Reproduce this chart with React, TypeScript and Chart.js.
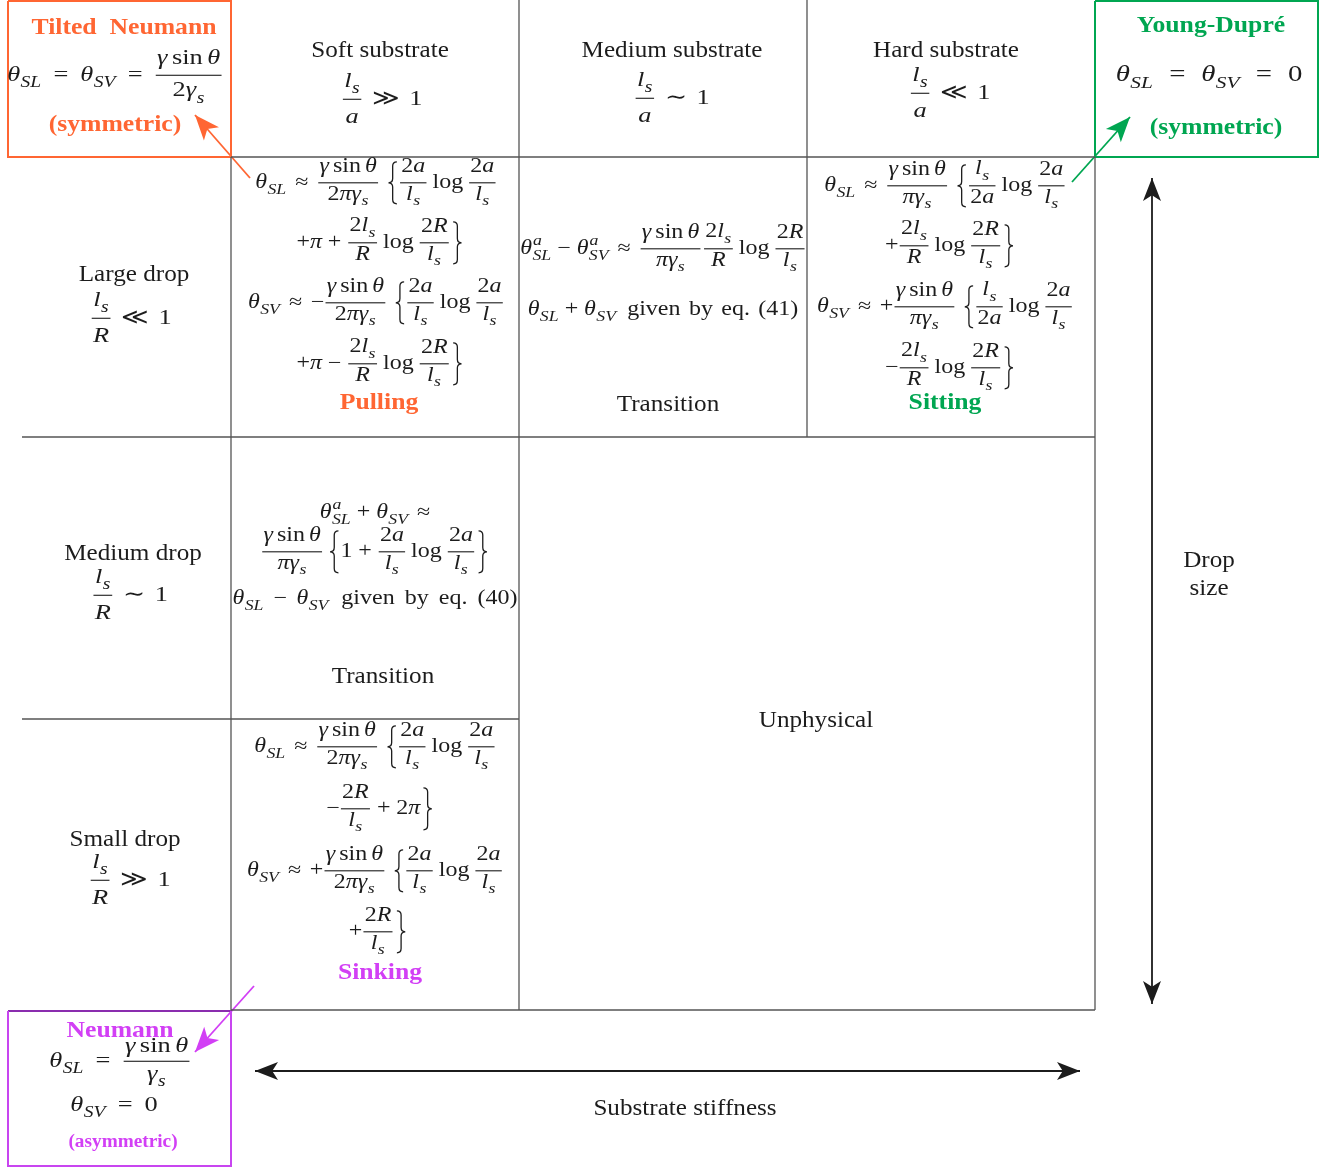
import React, { useEffect, useRef } from "react";
import { Chart, registerables } from "chart.js";

Chart.register(...registerables);

// ---------------- data (text content of the diagram) ----------------
const columnHeaders = ["Soft substrate", "Medium substrate", "Hard substrate"];
const columnRelations = ["≫", "∼", "≪"];
const rowHeaders = ["Large drop", "Medium drop", "Small drop"];
const rowRelations = ["≪", "∼", "≫"];
const regimeNames = ["Pulling", "Sitting", "Sinking"];
const transitionLabel = "Transition";
const unphysicalLabel = "Unphysical";
const limitNames = ["Tilted  Neumann", "Young-Dupré", "Neumann"];
const limitSymmetry = ["(symmetric)", "(symmetric)", "(asymmetric)"];
const axisTitles = ["Substrate stiffness", "Drop", "size"];
const equationRefs = ["(41)", "(40)"];

// ---------------- layout (diagram units on the linear scales) ----------------
const W = 1336;
const H = 1168;
const colEdges = [231, 519, 807, 1095];
const rowEdges = [157, 437, 719, 1010];
const labelLeft = 22;

const ORANGE = "#FF6633";
const GREEN = "#00A651";
const MAGENTA = "#D23FF5";
const MAGENTA_BOX = "#C845F0";
const PURPLE_DARK = "#8A2DAE";
const GRID = "#555555";
const INK = "#1c1c1c";

const SX = 1.07;
const MSX = 1.2;
const SERIF = '"Liberation Serif", "DejaVu Serif", serif';
const LABEL = 23.5;
const MATH = 20;

// ---------------- tiny math layout engine ----------------
type Ctx = CanvasRenderingContext2D;
type FS = { num: number; den: number };
type Box = { w: number; a: number; d: number; draw: (c: Ctx, x: number, y: number) => void };
type MN = (c: Ctx, s: number, st: FS) => Box;

const txt = (str: string, kind: string, sx: number): MN => (c, s) => {
  const font = (kind === "i" ? "italic " : kind === "b" ? "bold " : "") + s + "px " + SERIF;
  c.font = font;
  const w = c.measureText(str).width * sx;
  return {
    w,
    a: 0.7 * s,
    d: 0.2 * s,
    draw: (cc, x, y) => {
      cc.save();
      cc.font = font;
      cc.textAlign = "left";
      cc.textBaseline = "alphabetic";
      cc.translate(x, y);
      cc.scale(sx, 1);
      cc.fillText(str, 0, 0);
      cc.restore();
    },
  };
};
const I = (s: string) => txt(s, "i", MSX);
const R = (s: string) => txt(s, "r", MSX);
const sp = (em: number): MN => (_c, s) => ({ w: em * s * MSX, a: 0, d: 0, draw: () => {} });
const row = (...items: MN[]): MN => (c, s, st) => {
  const bs = items.map((f) => f(c, s, st));
  let w = 0, a = 0, d = 0;
  bs.forEach((b) => { w += b.w; a = Math.max(a, b.a); d = Math.max(d, b.d); });
  return {
    w, a, d,
    draw: (cc, x, y) => { let xx = x; bs.forEach((b) => { b.draw(cc, xx, y); xx += b.w; }); },
  };
};
const ss = (base: MN, sub?: MN, sup?: MN): MN => (c, s, st) => {
  const b = base(c, s, st);
  const z = s * 0.74;
  const sb = sub ? sub(c, z, st) : null;
  const sq = sup ? sup(c, z, st) : null;
  const subShift = sq ? 0.32 * s : 0.29 * s;
  const supShift = 0.45 * s;
  const w = b.w + Math.max(sb ? sb.w : 0, sq ? sq.w : 0) + 0.04 * s;
  return {
    w,
    a: Math.max(b.a, sq ? supShift + sq.a : 0),
    d: Math.max(b.d, sb ? subShift + sb.d : 0),
    draw: (cc, x, y) => {
      b.draw(cc, x, y);
      if (sb) sb.draw(cc, x + b.w + 0.02 * s, y + subShift);
      if (sq) sq.draw(cc, x + b.w + 0.05 * s, y - supShift);
    },
  };
};
const frac = (n: MN, dn: MN): MN => (c, s, st) => {
  const nb = n(c, s, st);
  const db = dn(c, s, st);
  const axis = 0.26 * s;
  const gap = 0.14 * s;
  const nShift = Math.max(st.num * s, nb.d + gap);
  const dShift = Math.max(st.den * s, db.a + gap);
  const pad = 0.12 * s;
  const w = Math.max(nb.w, db.w) + 2 * pad;
  return {
    w,
    a: axis + nShift + nb.a,
    d: dShift + db.d - axis,
    draw: (cc, x, y) => {
      const bar = y - axis;
      nb.draw(cc, x + (w - nb.w) / 2, bar - nShift);
      db.draw(cc, x + (w - db.w) / 2, bar + dShift);
      cc.fillRect(x + pad * 0.5, bar - 0.55, w - pad, 1.1);
    },
  };
};
const brace = (left: boolean): MN => (_c, s) => {
  const bw = 0.42 * s, h = 1.05 * s, axis = 0.26 * s;
  return {
    w: bw + 0.2 * s,
    a: axis + h,
    d: h - axis,
    draw: (cc, x, y) => {
      const ym = y - axis, yT = ym - h, yB = ym + h;
      const x0 = x + 0.1 * s;
      const xm = x0 + bw / 2;
      const xo = left ? x0 + bw : x0;
      const xi = left ? x0 : x0 + bw;
      const r = bw / 2;
      cc.save();
      cc.strokeStyle = cc.fillStyle as string;
      cc.lineWidth = 1.3;
      cc.beginPath();
      cc.moveTo(xo, yT);
      cc.quadraticCurveTo(xm, yT, xm, yT + r);
      cc.lineTo(xm, ym - r);
      cc.quadraticCurveTo(xm, ym, xi, ym);
      cc.quadraticCurveTo(xm, ym, xm, ym + r);
      cc.lineTo(xm, yB - r);
      cc.quadraticCurveTo(xm, yB, xo, yB);
      cc.stroke();
      cc.restore();
    },
  };
};
const rel = (op: string, em = 0.36) => row(sp(em), R(op), sp(em));
const bin = (op: string, em = 0.24) => row(sp(em), R(op), sp(em));
const theta = (sub: string, sup?: string) => ss(I("θ"), I(sub), sup ? I(sup) : undefined);
const gammaS = ss(I("γ"), I("s"));
const lS = ss(I("l"), I("s"));
const gSin = row(I("γ"), sp(0.17), R("sin"), sp(0.17), I("θ"));
const two = (n: MN) => row(R("2"), n);
const logOp = row(sp(0.2), R("log"), sp(0.2));
const LB = brace(true);
const RB = brace(false);
const twoPiGs = row(R("2"), I("π"), gammaS);
const piGs = row(I("π"), gammaS);
const f2aLs = frac(two(I("a")), lS);
const fLs2a = frac(lS, two(I("a")));
const f2lsR = frac(two(lS), I("R"));
const f2RLs = frac(two(I("R")), lS);
const given = (ref: string, em = 0.35) =>
  row(sp(em + 0.1), R("given"), sp(em), R("by"), sp(em), R("eq."), sp(em), R(ref));

const CELL: FS = { num: 0.55, den: 0.84 };
const HEAD: FS = { num: 0.45, den: 1.1 };
const BOXS: FS = { num: 0.52, den: 0.95 };
const BOXP: FS = { num: 0.42, den: 0.85 };

type MathItem = { node: MN; cx: number; by: number; size: number; st: FS; color: string };

const mathItems: MathItem[] = [
  // column header ratios
  ...columnRelations.map((r, i) => ({
    node: row(frac(lS, I("a")), rel(r), R("1")),
    cx: [382, 672, 950][i], by: [105, 104, 99][i], size: 22, st: HEAD, color: INK,
  })),
  // row header ratios
  ...rowRelations.map((r, i) => ({
    node: row(frac(lS, I("R")), rel(r), R("1")),
    cx: [131, 130, 130][i], by: [324, 601, 886][i], size: 22, st: HEAD, color: INK,
  })),
  // Pulling
  { node: row(theta("SL"), rel("≈"), frac(gSin, twoPiGs), sp(0.3), LB, f2aLs, logOp, f2aLs), cx: 376, by: 188, size: MATH, st: CELL, color: INK },
  { node: row(R("+"), I("π"), bin("+"), f2lsR, logOp, f2RLs, sp(0.05), RB), cx: 380, by: 248, size: MATH, st: CELL, color: INK },
  { node: row(theta("SV"), rel("≈"), R("−"), frac(gSin, twoPiGs), sp(0.3), LB, f2aLs, logOp, f2aLs), cx: 376, by: 308, size: MATH, st: CELL, color: INK },
  { node: row(R("+"), I("π"), bin("−"), f2lsR, logOp, f2RLs, sp(0.05), RB), cx: 380, by: 369, size: MATH, st: CELL, color: INK },
  // Transition (large drop, medium substrate)
  { node: row(theta("SL", "a"), bin("−"), theta("SV", "a"), rel("≈"), frac(gSin, piGs), sp(0.05), f2lsR, logOp, f2RLs), cx: 663, by: 254, size: MATH, st: CELL, color: INK },
  { node: row(theta("SL"), bin("+"), theta("SV"), given(equationRefs[0])), cx: 663, by: 315, size: MATH, st: CELL, color: INK },
  // Sitting
  { node: row(theta("SL"), rel("≈"), frac(gSin, piGs), sp(0.3), LB, fLs2a, logOp, f2aLs), cx: 945, by: 191, size: MATH, st: CELL, color: INK },
  { node: row(R("+"), f2lsR, logOp, f2RLs, sp(0.05), RB), cx: 950, by: 251, size: MATH, st: CELL, color: INK },
  { node: row(theta("SV"), rel("≈"), R("+"), frac(gSin, piGs), sp(0.3), LB, fLs2a, logOp, f2aLs), cx: 945, by: 312, size: MATH, st: CELL, color: INK },
  { node: row(R("−"), f2lsR, logOp, f2RLs, sp(0.05), RB), cx: 950, by: 373, size: MATH, st: CELL, color: INK },
  // Transition (medium drop, soft substrate)
  { node: row(theta("SL", "a"), bin("+"), theta("SV"), sp(0.36), R("≈")), cx: 375, by: 518, size: MATH, st: CELL, color: INK },
  { node: row(frac(gSin, piGs), sp(0.2), LB, R("1"), bin("+"), f2aLs, logOp, f2aLs, sp(0.05), RB), cx: 375, by: 557, size: MATH, st: CELL, color: INK },
  { node: row(theta("SL"), bin("−", 0.4), theta("SV"), given(equationRefs[1], 0.42)), cx: 375, by: 604, size: MATH, st: CELL, color: INK },
  // Sinking
  { node: row(theta("SL"), rel("≈"), frac(gSin, twoPiGs), sp(0.3), LB, f2aLs, logOp, f2aLs), cx: 375, by: 752, size: MATH, st: CELL, color: INK },
  { node: row(R("−"), f2RLs, bin("+"), R("2"), I("π"), sp(0.05), RB), cx: 380, by: 814, size: MATH, st: CELL, color: INK },
  { node: row(theta("SV"), rel("≈"), R("+"), frac(gSin, twoPiGs), sp(0.3), LB, f2aLs, logOp, f2aLs), cx: 375, by: 876, size: MATH, st: CELL, color: INK },
  { node: row(R("+"), f2RLs, sp(0.05), RB), cx: 378, by: 937, size: MATH, st: CELL, color: INK },
  // limit boxes
  { node: row(theta("SL"), rel("=", 0.45), theta("SV"), rel("=", 0.45), frac(gSin, row(R("2"), gammaS))), cx: 115, by: 81, size: 22, st: BOXS, color: INK },
  { node: row(theta("SL"), rel("=", 0.55), theta("SV"), rel("=", 0.55), R("0")), cx: 1209, by: 81, size: 24, st: BOXS, color: INK },
  { node: row(theta("SL"), rel("=", 0.45), frac(gSin, gammaS)), cx: 120, by: 1067, size: 22, st: BOXP, color: INK },
  { node: row(theta("SV"), rel("=", 0.45), R("0")), cx: 114, by: 1111, size: 22, st: BOXS, color: INK },
];

type TextItem = { s: string; cx: number; by: number; size: number; kind: string; color: string };
const textItems: TextItem[] = [
  ...columnHeaders.map((s, i) => ({ s, cx: [380, 672, 946][i], by: 57, size: LABEL, kind: "r", color: INK })),
  ...rowHeaders.map((s, i) => ({ s, cx: [134, 133, 125][i], by: [281, 560, 846][i], size: LABEL, kind: "r", color: INK })),
  { s: regimeNames[0], cx: 379, by: 409, size: 24, kind: "b", color: ORANGE },
  { s: regimeNames[1], cx: 945, by: 409, size: 24, kind: "b", color: GREEN },
  { s: regimeNames[2], cx: 380, by: 979, size: 24, kind: "b", color: MAGENTA },
  { s: transitionLabel, cx: 668, by: 411, size: LABEL, kind: "r", color: INK },
  { s: transitionLabel, cx: 383, by: 683, size: LABEL, kind: "r", color: INK },
  { s: unphysicalLabel, cx: 816, by: 727, size: LABEL, kind: "r", color: INK },
  { s: axisTitles[0], cx: 685, by: 1115, size: LABEL, kind: "r", color: INK },
  { s: axisTitles[1], cx: 1209, by: 567, size: LABEL, kind: "r", color: INK },
  { s: axisTitles[2], cx: 1209, by: 595, size: LABEL, kind: "r", color: INK },
  { s: limitNames[0], cx: 124, by: 34, size: 24, kind: "b", color: ORANGE },
  { s: limitSymmetry[0], cx: 115, by: 131, size: 24, kind: "b", color: ORANGE },
  { s: limitNames[1], cx: 1211, by: 32, size: 24, kind: "b", color: GREEN },
  { s: limitSymmetry[1], cx: 1216, by: 134, size: 24, kind: "b", color: GREEN },
  { s: limitNames[2], cx: 120, by: 1037, size: 24, kind: "b", color: MAGENTA },
  { s: limitSymmetry[2], cx: 123, by: 1147, size: 18, kind: "b", color: MAGENTA },
];

type Arrow = { from: number[]; to: number[]; color: string; both: boolean; len: number; half: number; concave: boolean };
const arrows: Arrow[] = [
  { from: [250, 178], to: [195, 115], color: ORANGE, both: false, len: 25, half: 10, concave: true },
  { from: [1072, 182], to: [1130, 117], color: GREEN, both: false, len: 25, half: 10, concave: true },
  { from: [254, 986], to: [195, 1052], color: MAGENTA, both: false, len: 25, half: 10, concave: true },
  { from: [255, 1071], to: [1080, 1071], color: INK, both: true, len: 23, half: 9, concave: true },
  { from: [1152, 178], to: [1152, 1004], color: INK, both: true, len: 23, half: 9, concave: true },
];

type Seg = { pts: number[][]; color: string; width: number };
const segments: Seg[] = [
  { pts: [[colEdges[0], rowEdges[0]], [colEdges[3], rowEdges[0]]], color: GRID, width: 1.3 },
  { pts: [[labelLeft, rowEdges[1]], [colEdges[3], rowEdges[1]]], color: GRID, width: 1.3 },
  { pts: [[labelLeft, rowEdges[2]], [colEdges[1], rowEdges[2]]], color: GRID, width: 1.3 },
  { pts: [[colEdges[0], rowEdges[3]], [colEdges[3], rowEdges[3]]], color: GRID, width: 1.3 },
  { pts: [[colEdges[0], rowEdges[0]], [colEdges[0], rowEdges[3]]], color: GRID, width: 1.3 },
  { pts: [[colEdges[1], 0], [colEdges[1], rowEdges[3]]], color: GRID, width: 1.3 },
  { pts: [[colEdges[2], 0], [colEdges[2], rowEdges[1]]], color: GRID, width: 1.3 },
  { pts: [[colEdges[3], rowEdges[0]], [colEdges[3], rowEdges[3]]], color: GRID, width: 1.3 },
  // limit boxes
  { pts: [[8, 1], [colEdges[0], 1], [colEdges[0], rowEdges[0]], [8, rowEdges[0]], [8, 1]], color: ORANGE, width: 2 },
  { pts: [[colEdges[3], 1], [1318, 1], [1318, rowEdges[0]], [colEdges[3], rowEdges[0]], [colEdges[3], 1]], color: GREEN, width: 2 },
  { pts: [[colEdges[0], rowEdges[3] + 1], [colEdges[0], 1166], [8, 1166], [8, rowEdges[3] + 1]], color: MAGENTA_BOX, width: 2 },
  { pts: [[8, rowEdges[3] + 1], [colEdges[0], rowEdges[3] + 1], [colEdges[0], 1150]], color: PURPLE_DARK, width: 2 },
  // arrow shafts
  ...arrows.map((a) => ({ pts: [a.from, a.to], color: a.color, width: 1.8 })),
];

function drawHead(c: Ctx, tip: number[], from: number[], a: Arrow) {
  const ang = Math.atan2(tip[1] - from[1], tip[0] - from[0]);
  const ux = Math.cos(ang), uy = Math.sin(ang);
  const nx = -uy, ny = ux;
  const bx = tip[0] - ux * a.len, by = tip[1] - uy * a.len;
  c.beginPath();
  c.moveTo(tip[0], tip[1]);
  c.lineTo(bx + nx * a.half, by + ny * a.half);
  if (a.concave) c.lineTo(tip[0] - ux * a.len * 0.75, tip[1] - uy * a.len * 0.75);
  c.lineTo(bx - nx * a.half, by - ny * a.half);
  c.closePath();
  c.fill();
}

const diagramPlugin = {
  id: "diagramOverlay",
  beforeDraw(chart: any) {
    const c = chart.ctx as Ctx;
    c.save();
    c.fillStyle = "#ffffff";
    c.fillRect(0, 0, chart.width, chart.height);
    c.restore();
  },
  afterDatasetsDraw(chart: any) {
    const c = chart.ctx as Ctx;
    const xs = chart.scales.x, ys = chart.scales.y;
    const X = (v: number) => xs.getPixelForValue(v);
    const Y = (v: number) => ys.getPixelForValue(v);
    c.save();
    arrows.forEach((a) => {
      c.fillStyle = a.color;
      const t = [X(a.to[0]), Y(a.to[1])], f = [X(a.from[0]), Y(a.from[1])];
      drawHead(c, t, f, a);
      if (a.both) drawHead(c, f, t, a);
    });
    textItems.forEach((t) => {
      const b = txt(t.s, t.kind, SX)(c, t.size, CELL);
      c.fillStyle = t.color;
      b.draw(c, X(t.cx) - b.w / 2, Y(t.by));
    });
    mathItems.forEach((m) => {
      const b = m.node(c, m.size, m.st);
      c.fillStyle = m.color;
      b.draw(c, X(m.cx) - b.w / 2, Y(m.by));
    });
    c.restore();
  },
};

export default function App() {
  const ref = useRef<HTMLCanvasElement | null>(null);
  useEffect(() => {
    document.body.style.margin = "0";
    const canvas = ref.current;
    if (!canvas) return;
    const chart = new Chart(canvas, {
      type: "scatter",
      data: {
        datasets: segments.map((s) => ({
          data: s.pts.map((p) => ({ x: p[0], y: p[1] })),
          showLine: true,
          borderColor: s.color,
          backgroundColor: s.color,
          borderWidth: s.width,
          pointRadius: 0,
          pointHoverRadius: 0,
          fill: false,
          tension: 0,
        })),
      },
      options: {
        animation: false,
        responsive: false,
        devicePixelRatio: 1,
        events: [],
        layout: { padding: 0 },
        plugins: { legend: { display: false }, tooltip: { enabled: false } },
        scales: {
          x: { type: "linear", min: 0, max: W, display: false },
          y: { type: "linear", min: 0, max: H, reverse: true, display: false },
        },
      },
      plugins: [diagramPlugin],
    } as any);
    return () => chart.destroy();
  }, []);
  return (
    <div style={{ width: W, height: H, position: "relative" }}>
      <canvas ref={ref} width={W} height={H} style={{ display: "block", width: W, height: H }} />
    </div>
  );
}
